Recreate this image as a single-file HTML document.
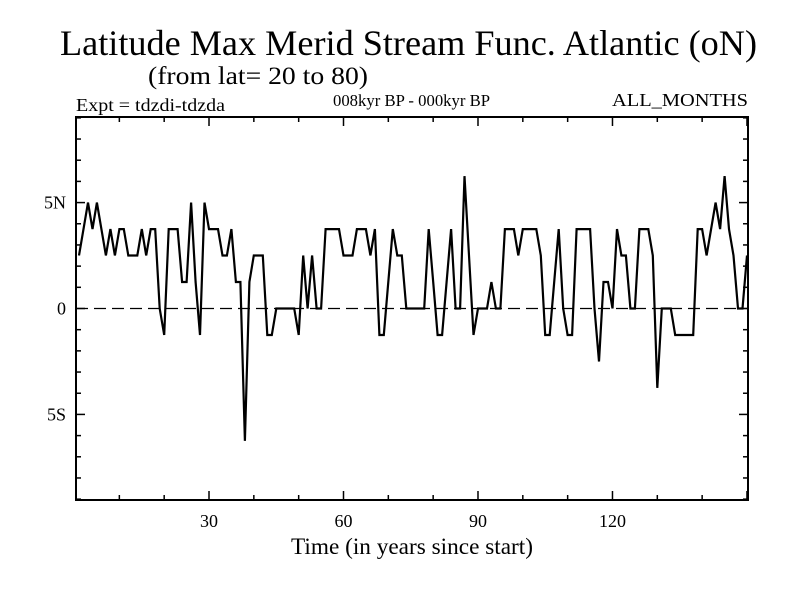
<!DOCTYPE html>
<html><head><meta charset="utf-8"><style>
body{margin:0;background:#fff;}
svg{display:block;font-family:"Liberation Serif",serif;}
</style></head><body>
<svg id="chart" width="800" height="600">
<text x="60" y="55" font-size="36" textLength="697" lengthAdjust="spacingAndGlyphs">Latitude Max Merid Stream Func. Atlantic (oN)</text>
<text x="148" y="84" font-size="25" textLength="220" lengthAdjust="spacingAndGlyphs">(from lat= 20 to 80)</text>
<text x="76" y="111" font-size="18" textLength="149" lengthAdjust="spacingAndGlyphs">Expt = tdzdi-tdzda</text>
<text x="333" y="106" font-size="17" textLength="157" lengthAdjust="spacingAndGlyphs">008kyr BP - 000kyr BP</text>
<text x="612" y="106" font-size="18" textLength="136" lengthAdjust="spacingAndGlyphs">ALL_MONTHS</text>
<text x="291" y="554" font-size="23" textLength="242" lengthAdjust="spacingAndGlyphs">Time (in years since start)</text>
<rect x="76" y="117" width="672" height="383" fill="none" stroke="#000" stroke-width="2"/>
<g id="axes"></g>
<g id="series"></g>
</svg>
<script>
const years = Array.from({length:150},(_, i)=>i+1);
const values = [
2.5,3.75,5,3.75,5,3.75,2.5,3.75,2.5,3.75,3.75,2.5,2.5,2.5,3.75,2.5,3.75,3.75,0,-1.25,
3.75,3.75,3.75,1.25,1.25,5,1.25,-1.25,5,3.75,3.75,3.75,2.5,2.5,3.75,1.25,1.25,-6.25,1.25,2.5,
2.5,2.5,-1.25,-1.25,0,0,0,0,0,-1.25,2.5,0,2.5,0,0,3.75,3.75,3.75,3.75,2.5,
2.5,2.5,3.75,3.75,3.75,2.5,3.75,-1.25,-1.25,1.25,3.75,2.5,2.5,0,0,0,0,0,3.75,1.25,
-1.25,-1.25,1.25,3.75,0,0,6.25,2.5,-1.25,0,0,0,1.25,0,0,3.75,3.75,3.75,2.5,3.75,
3.75,3.75,3.75,2.5,-1.25,-1.25,1.25,3.75,0,-1.25,-1.25,3.75,3.75,3.75,3.75,0,-2.5,1.25,1.25,0,
3.75,2.5,2.5,0,0,3.75,3.75,3.75,2.5,-3.75,0,0,0,-1.25,-1.25,-1.25,-1.25,-1.25,3.75,3.75,
2.5,3.75,5,3.75,6.25,3.75,2.5,0,0,2.5];
const xTickLabels = [30,60,90,120];
const yTickLabels = ["5N","0","5S"];
const yTickValues = [5,0,-5];

const X0=76,X1=748,Y0=500,Y1=117;
const xMin=0.33,xMax=150.23,yMin=-9.04,yMax=9.04;
const xs=t=>X0+(t-xMin)/(xMax-xMin)*(X1-X0);
const ys=v=>Y0-(v-yMin)/(yMax-yMin)*(Y0-Y1);
const NS="http://www.w3.org/2000/svg";
const axes=document.getElementById('axes');
function mk(tag,attrs,parent){const e=document.createElementNS(NS,tag);for(const k in attrs)e.setAttribute(k,attrs[k]);parent.appendChild(e);return e;}

for(let t=10;t<=150;t+=10){
  const big=t%30===0, L=big?9:5, x=xs(t);
  const b=mk('line',{x1:x,x2:x,y1:Y0,y2:Y0-L,stroke:'#000','stroke-width':1.5},axes);
  
  
  const tp=mk('line',{x1:x,x2:x,y1:Y1,y2:Y1+L,stroke:'#000','stroke-width':1.5},axes);
  
  
}
xTickLabels.forEach(v=>{
  const tx=mk('text',{x:xs(v),y:527,'font-size':18,'text-anchor':'middle'},axes);
  tx.textContent=v;
  
  
});
for(let v=-9;v<=9;v++){
  const big=v%5===0, L=big?9:5, y=ys(v);
  const l=mk('line',{x1:X0,x2:X0+L,y1:y,y2:y,stroke:'#000','stroke-width':1.5},axes);
  
  
  const r=mk('line',{x1:X1,x2:X1-L,y1:y,y2:y,stroke:'#000','stroke-width':1.5},axes);
  
  
}
yTickLabels.forEach((lab,i)=>{
  const tx=mk('text',{x:66,y:ys(yTickValues[i])+6,'font-size':18,'text-anchor':'end'},axes);
  tx.textContent=lab;
  
  
});
const zl=mk('line',{x1:X0,x2:X1,y1:ys(0),y2:ys(0),stroke:'#000','stroke-width':1.2,'stroke-dasharray':'12,6'},axes);



const pts=years.map((t,i)=>xs(t).toFixed(1)+','+ys(values[i]).toFixed(1)).join(' ');
const pl=mk('polyline',{points:pts,fill:'none',stroke:'#000','stroke-width':2.2,'stroke-linejoin':'miter'},document.getElementById('series'));


</script>
</body></html>
